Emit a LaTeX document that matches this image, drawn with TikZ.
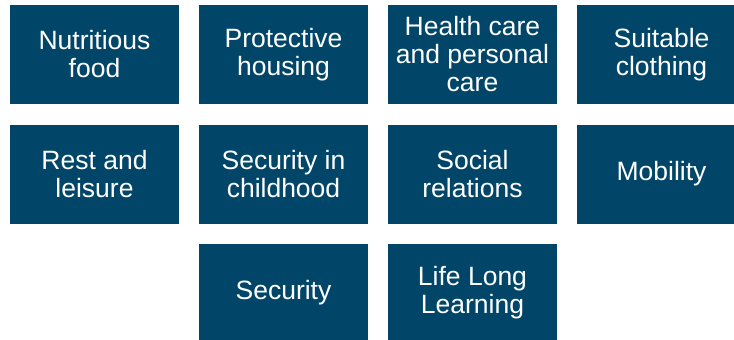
\documentclass[tikz,border=0pt]{standalone}
\usepackage{fontspec}
\setmainfont{Liberation Sans}
\definecolor{boxblue}{RGB}{1,70,104}
\tikzset{
	needbox/.style={fill=boxblue, text=white, align=center, minimum width=169pt, minimum height=99pt, inner sep=0pt, font=\fontsize{26.5}{28}\selectfont}
}
\begin{document}
\begin{tikzpicture}[x=1pt, y=-1pt]
		\useasboundingbox[fill=white] (0,0) rectangle (734,340);

		% Primera fila
		\node[needbox] (food) at (94.5,54.5) {Nutritious\\food};
		\node[needbox] (housing) at (283.5,54.5) {Protective\\housing};
		\node[needbox] (care) at (472.5,54.5) {Health care\\and personal\\care};
		\node[needbox] (clothing) at (661.5,54.5) {Suitable\\clothing};

		% Segunda fila
		\node[needbox] (rest) at (94.5,174) {Rest and\\leisure};
		\node[needbox] (childhood) at (283.5,174) {Security in\\childhood};
		\node[needbox] (relations) at (472.5,174) {Social\\relations};
		\node[needbox] (mobility) at (661.5,174) {Mobility};

		% Tercera fila
		\node[needbox] (security) at (283.5,293) {Security};
		\node[needbox] (learning) at (472.5,293) {Life Long\\Learning};
	\end{tikzpicture}
\end{document}
